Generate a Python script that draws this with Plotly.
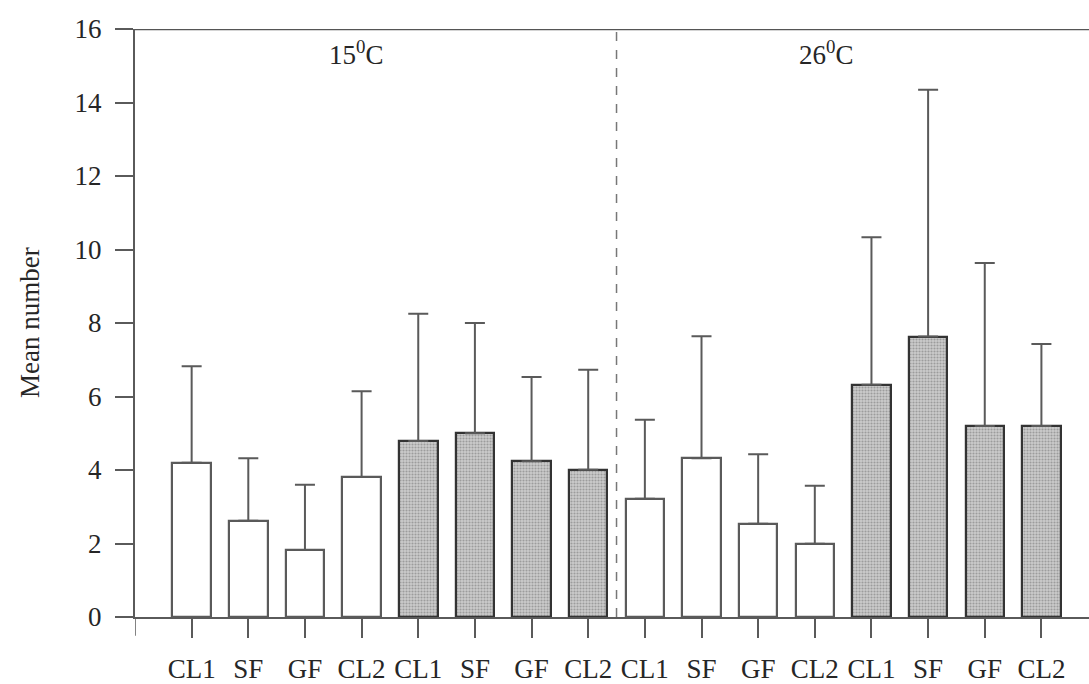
import plotly.graph_objects as go

# Treatment groups along the x axis
labels = ["CL1", "SF", "GF", "CL2", "CL1", "SF", "GF", "CL2",
          "CL1", "SF", "GF", "CL2", "CL1", "SF", "GF", "CL2"]

# Mean number per group (15 °C block, then 26 °C block)
means_15_open = [4.2, 2.62, 1.82, 3.81]
means_15_shaded = [4.79, 5.0, 4.24, 4.01]
means_26_open = [3.22, 4.32, 2.54, 1.99]
means_26_shaded = [6.32, 7.63, 5.2, 5.2]

# Upper end of each error bar
upper_15_open = [6.82, 4.32, 3.6, 6.14]
upper_15_shaded = [8.25, 8.0, 6.53, 6.73]
upper_26_open = [5.37, 7.64, 4.43, 3.57]
upper_26_shaded = [10.33, 14.35, 9.63, 7.43]

y_ticks = [0, 2, 4, 6, 8, 10, 12, 14, 16]

FONT = "Liberation Serif, Times New Roman, serif"
LINE = "#5a5a5a"
TEXT = "#262626"

positions = list(range(len(labels)))


def bar_trace(xs, means, uppers, shaded):
    errs = [u - m for u, m in zip(uppers, means)]
    marker = dict(
        color="#c4c4c4" if shaded else "white",
        line=dict(color="#333333" if shaded else LINE, width=2.2),
    )
    if shaded:
        marker["pattern"] = dict(shape=".", fgcolor="#6e6e6e",
                                 bgcolor="#cbcbcb", size=3, solidity=0.4)
    return go.Bar(
        x=xs, y=means, width=0.68, marker=marker,
        error_y=dict(type="data", array=errs, symmetric=False,
                     arrayminus=[0] * len(errs), color=LINE,
                     thickness=2, width=10),
        showlegend=False,
    )


fig = go.Figure()
fig.add_trace(bar_trace(positions[0:4], means_15_open, upper_15_open, False))
fig.add_trace(bar_trace(positions[4:8], means_15_shaded, upper_15_shaded, True))
fig.add_trace(bar_trace(positions[8:12], means_26_open, upper_26_open, False))
fig.add_trace(bar_trace(positions[12:16], means_26_shaded, upper_26_shaded, True))

# Dashed divider between the two temperature blocks
fig.add_shape(type="line", x0=7.5, x1=7.5, y0=0, y1=16, xref="x", yref="y",
              line=dict(color="#777777", width=1.5, dash="dash"), layer="below")

# Top frame line
fig.add_shape(type="line", x0=-1, x1=15.84, y0=16, y1=16, xref="x", yref="y",
              line=dict(color="#555555", width=2.5))

# Left axis continues a little below the baseline
fig.add_shape(type="line", x0=-1, x1=-1, y0=0, y1=-0.032, xref="x", yref="paper",
              line=dict(color=LINE, width=1.5))

fig.add_annotation(x=2.9, y=15.35, text="15<sup>0</sup>C", showarrow=False,
                   font=dict(family=FONT, size=27, color=TEXT))
fig.add_annotation(x=11.2, y=15.35, text="26<sup>0</sup>C", showarrow=False,
                   font=dict(family=FONT, size=27, color=TEXT))

fig.add_annotation(x=-0.11, y=0.5, xref="paper", yref="paper",
                   xanchor="center", yanchor="middle",
                   text="Mean number", textangle=-90, showarrow=False,
                   font=dict(family=FONT, size=27, color=TEXT))

fig.update_xaxes(
    range=[-1, 15.84],
    tickvals=positions, ticktext=labels,
    ticks="outside", ticklen=19, tickwidth=1.5, tickcolor=LINE,
    ticklabelstandoff=8,
    showline=True, linecolor=LINE, linewidth=2,
    showgrid=False, zeroline=False,
    tickfont=dict(family=FONT, size=27, color=TEXT),
)
fig.update_yaxes(
    range=[0, 16], tickvals=y_ticks,
    ticks="outside", ticklen=18, tickwidth=1.5, tickcolor=LINE,
    ticklabelstandoff=8,
    showline=True, linecolor=LINE, linewidth=2,
    showgrid=False, zeroline=False,
    tickfont=dict(family=FONT, size=27, color=TEXT),
)

fig.update_layout(
    width=1089, height=684,
    margin=dict(l=135, r=0, t=29, b=65),
    plot_bgcolor="white", paper_bgcolor="white",
    bargap=0, barmode="overlay",
)

fig.write_html("out.html")
